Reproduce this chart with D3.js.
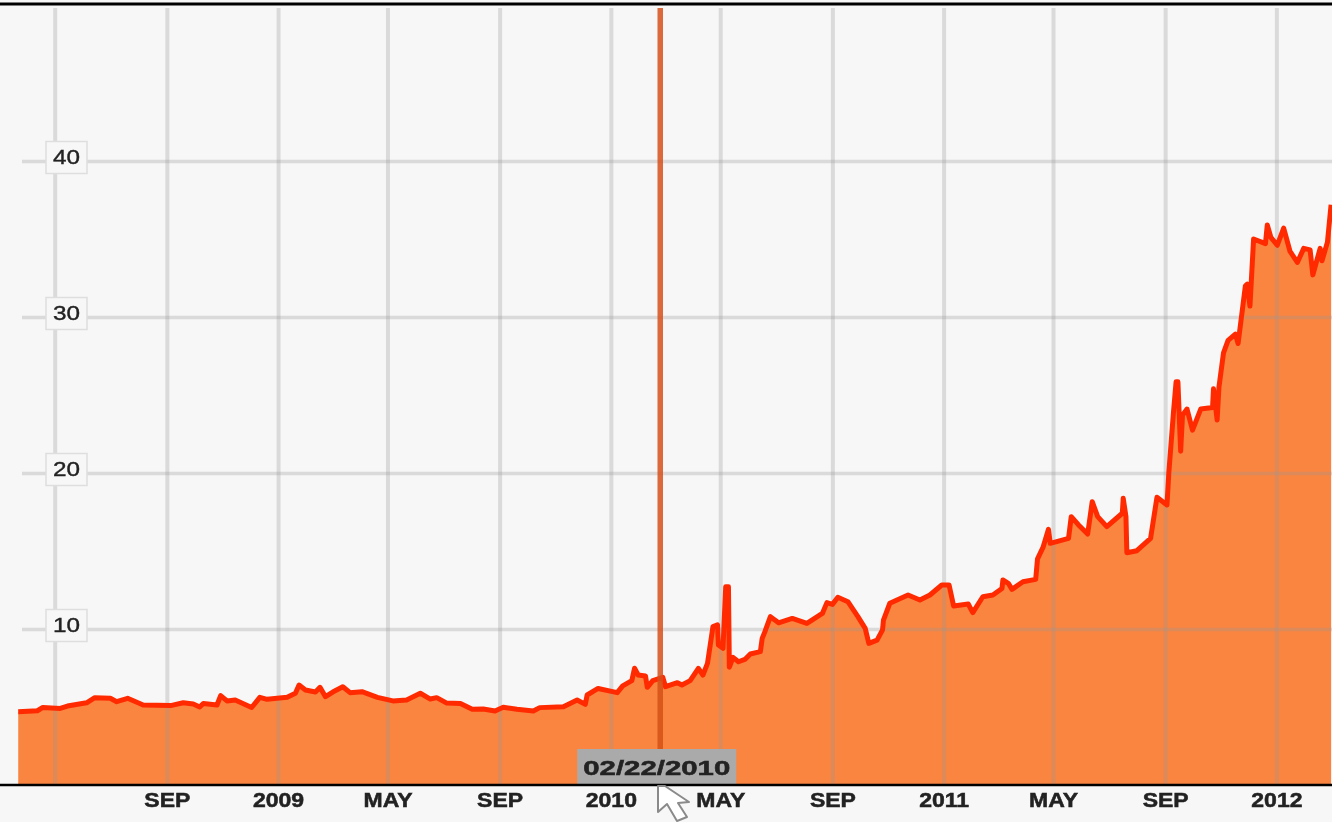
<!DOCTYPE html>
<html>
<head>
<meta charset="utf-8">
<script src="https://cdn.jsdelivr.net/npm/d3@7"></script>
<style>
    html, body { margin: 0; padding: 0; background: #f7f7f7; overflow: hidden; }
    svg { display: block; }
    text { font-family: "Liberation Sans", Arial, sans-serif; fill: #222; }
</style>
</head>
<body>
<svg id="chart" width="1332" height="822"></svg>
<script>
// Days counted from 2009-01-01, paired by index with prices below
const dayOffsets = [
    -285, -264, -258, -239, -231, -210, -201, -184, -177, -165, -148, -118, -104, -93, -86, -82, -67, -63, -56, -47,
    -29, -20, -12, 10, 19, 23, 30, 41, 46, 52, 60, 71, 79, 92, 109, 126, 141, 156, 167, 174,
    185, 200, 213, 225, 238, 247, 262, 280, 287, 313, 328, 337, 339, 351, 372, 378, 388, 391, 395, 403,
    405, 411, 422, 425, 438, 443, 452, 461, 466, 471, 477, 482, 483, 488, 491, 494, 495, 499, 505, 512,
    518, 529, 531, 534, 540, 549, 564, 580, 597, 602, 608, 614, 625, 636, 644, 648, 657, 663, 664, 671,
    691, 704, 715, 728, 736, 741, 757, 762, 773, 784, 794, 795, 801, 805, 817, 831, 833, 839, 845, 847,
    867, 870, 878, 888, 893, 899, 909, 926, 927, 930, 931, 942, 957, 964, 975, 977, 982, 985, 987, 990,
    992, 997, 1003, 1012, 1025, 1026, 1030, 1032, 1037, 1042, 1050, 1053, 1061, 1063, 1066, 1070, 1083, 1085, 1089, 1096,
    1103, 1110, 1118, 1125, 1132, 1135, 1143, 1145, 1151, 1155
];
const prices = [
    4.70, 4.76, 4.97, 4.91, 5.06, 5.27, 5.60, 5.56, 5.34, 5.56, 5.13, 5.09, 5.27, 5.19, 5.00, 5.23, 5.13, 5.73, 5.39, 5.45,
    4.97, 5.62, 5.49, 5.62, 5.88, 6.41, 6.09, 5.96, 6.26, 5.66, 5.96, 6.30, 5.92, 5.98, 5.62, 5.39, 5.45, 5.88, 5.51, 5.60,
    5.25, 5.23, 4.85, 4.87, 4.74, 4.98, 4.85, 4.74, 4.96, 5.02, 5.45, 5.17, 5.77, 6.19, 5.92, 6.35, 6.69, 7.48, 7.05, 6.99,
    6.26, 6.69, 6.90, 6.30, 6.56, 6.41, 6.69, 7.48, 7.05, 7.80, 10.15, 10.26, 8.97, 8.76, 12.71, 12.71, 7.55, 8.18, 7.90, 8.05,
    8.40, 8.55, 9.40, 9.83, 10.79, 10.40, 10.68, 10.36, 11.00, 11.69, 11.58, 12.03, 11.75, 10.79, 10.04, 9.08, 9.29, 9.94, 10.57, 11.65,
    12.18, 11.86, 12.18, 12.82, 12.82, 11.48, 11.60, 11.05, 12.07, 12.18, 12.60, 13.14, 12.93, 12.54, 13.03, 13.18, 14.50, 15.23, 16.39, 15.49,
    15.81, 17.20, 16.67, 16.09, 18.16, 17.20, 16.56, 17.42, 18.38, 17.20, 14.89, 15.02, 15.81, 18.44, 17.95, 20.00, 23.80, 25.85, 25.85, 21.40,
    23.70, 24.10, 22.75, 24.10, 24.20, 25.40, 23.40, 25.50, 27.70, 28.50, 28.90, 28.30, 32.00, 32.10, 30.70, 35.00, 34.70, 35.90, 35.10, 34.60,
    35.70, 34.20, 33.50, 34.40, 34.30, 32.70, 34.40, 33.60, 34.80, 37.20
];
const xTickDates = ['2008-05-01', '2008-09-01', '2009-01-01', '2009-05-01', '2009-09-01', '2010-01-01',
    '2010-05-01', '2010-09-01', '2011-01-01', '2011-05-01', '2011-09-01', '2012-01-01'];
const xTickLabels = ['', 'SEP', '2009', 'MAY', 'SEP', '2010', 'MAY', 'SEP', '2011', 'MAY', 'SEP', '2012'];
const yTicks = [10, 20, 30, 40];
const markerDate = '2010-02-22';
const markerLabel = '02/22/2010';

/**
 * Visual configs.
 */
const width = 1332,
    height = 822,
    plotTop = 8,
    plotBottom = 785,
    gridLeft = 22,
    labelBoxX = 46,
    labelBoxW = 41,
    labelBoxH = 32;

const parseDate = d3.utcParse('%Y-%m-%d'),
    baseDay = parseDate('2009-01-01');

const data = dayOffsets.map((d, i) => ({ date: d3.utcDay.offset(baseDay, d), price: prices[i] }));

const xScale = d3.scaleUtc()
    .domain([parseDate('2008-03-02'), parseDate('2012-03-02')])
    .range([0, width]);
const yScale = d3.scaleLinear()
    .domain([0, 40])
    .range([plotBottom, 161]);

const svg = d3.select('#chart');
svg.append('rect').attr('width', width).attr('height', height).attr('fill', '#f7f7f7');

// Source picture is a soft upscale, so everything gets a slight blur
svg.append('defs').append('filter').attr('id', 'soft')
    .attr('x', 0).attr('y', 0).attr('width', 1).attr('height', 1)
    .attr('filterUnits', 'objectBoundingBox')
    .append('feGaussianBlur').attr('stdDeviation', 0.7);

const root = svg.append('g').attr('filter', 'url(#soft)');
root.append('rect').attr('width', width).attr('height', height).attr('fill', '#f7f7f7');

// Area
const area = d3.area()
    .x(d => xScale(d.date))
    .y0(plotBottom)
    .y1(d => yScale(d.price));
root.append('path').datum(data).attr('d', area).attr('fill', '#f98540');

// Grid lines, drawn over the area so they show through it
const xAxis = d3.axisBottom(xScale)
    .tickValues(xTickDates.map(parseDate))
    .tickFormat((d, i) => xTickLabels[i])
    .tickSize(plotTop - plotBottom)
    .tickPadding(plotBottom - plotTop);
const xAxisContainer = root.append('g')
    .attr('transform', 'translate(0,' + plotBottom + ')')
    .call(xAxis);
xAxisContainer.select('.domain').remove();
xAxisContainer.selectAll('line')
    .attr('stroke', '#999').attr('stroke-opacity', 0.3).attr('stroke-width', 4);
xAxisContainer.selectAll('text')
    .attr('y', 22)
    .attr('dy', 0)
    .attr('transform', 'scale(1.15,1)')
    .attr('font-size', 20)
    .attr('font-weight', 'bold')
    .attr('font-family', '"Liberation Sans", Arial, sans-serif')
    .attr('stroke', '#222')
    .attr('stroke-width', 0.5);

const yAxis = d3.axisLeft(yScale)
    .tickValues(yTicks)
    .tickSize(gridLeft - width)
    .tickFormat(d3.format('d'));
const yAxisContainer = root.append('g').call(yAxis);
yAxisContainer.select('.domain').remove();
yAxisContainer.selectAll('line')
    .attr('x1', gridLeft).attr('x2', width)
    .attr('stroke', '#999').attr('stroke-opacity', 0.3).attr('stroke-width', 3.5);
yAxisContainer.selectAll('text').remove();
yAxisContainer.selectAll('.tick').each(function(d) {
    const tick = d3.select(this);
    tick.append('rect')
        .attr('x', labelBoxX)
        .attr('y', -20)
        .attr('width', labelBoxW)
        .attr('height', labelBoxH)
        .attr('fill', '#f7f7f7')
        .attr('stroke', '#dedede')
        .attr('stroke-width', 1.5);
    tick.append('text')
        .attr('x', labelBoxX + labelBoxW / 2)
        .attr('y', 2)
        .attr('text-anchor', 'middle')
        .attr('font-size', 21)
        .attr('textLength', 27)
        .attr('lengthAdjust', 'spacingAndGlyphs')
        .attr('font-family', '"Liberation Sans", Arial, sans-serif')
        .attr('fill', '#222')
        .attr('stroke', '#222')
        .attr('stroke-width', 0.4)
        .text(d);
});

// Price line
const line = d3.line()
    .x(d => xScale(d.date))
    .y(d => yScale(d.price));
root.append('path').datum(data)
    .attr('d', line)
    .attr('fill', 'none')
    .attr('stroke', '#ff2a00')
    .attr('stroke-width', 5)
    .attr('stroke-linejoin', 'round');

// Hover marker
const markerX = xScale(parseDate(markerDate)) + 2;
root.append('line')
    .attr('x1', markerX).attr('x2', markerX)
    .attr('y1', plotTop).attr('y2', plotBottom)
    .attr('stroke', '#d6501a')
    .attr('stroke-opacity', 0.85)
    .attr('stroke-width', 5.5);
root.append('rect')
    .attr('x', markerX - 83).attr('y', 749)
    .attr('width', 159).attr('height', 36)
    .attr('fill', '#aaaaaa');
root.append('text')
    .attr('x', markerX - 77).attr('y', 775)
    .attr('font-size', 20)
    .attr('font-weight', 'bold')
    .attr('textLength', 147)
    .attr('lengthAdjust', 'spacingAndGlyphs')
    .attr('fill', '#222')
    .attr('stroke', '#222')
    .attr('stroke-width', 0.5)
    .text(markerLabel);

// Frame
root.append('line').attr('x1', 0).attr('x2', width).attr('y1', 4).attr('y2', 4)
    .attr('stroke', '#000').attr('stroke-width', 3);
root.append('line').attr('x1', 0).attr('x2', width).attr('y1', plotBottom).attr('y2', plotBottom)
    .attr('stroke', '#000').attr('stroke-width', 2.5);

// Mouse cursor
root.append('path')
    .attr('d', 'M658,786V812L667,804L677,821L687,817L678,803L689,802L665,786Z')
    .attr('fill', '#fff')
    .attr('stroke', '#8a8a8a')
    .attr('stroke-width', 2)
    .attr('stroke-linejoin', 'round');
</script>
</body>
</html>
